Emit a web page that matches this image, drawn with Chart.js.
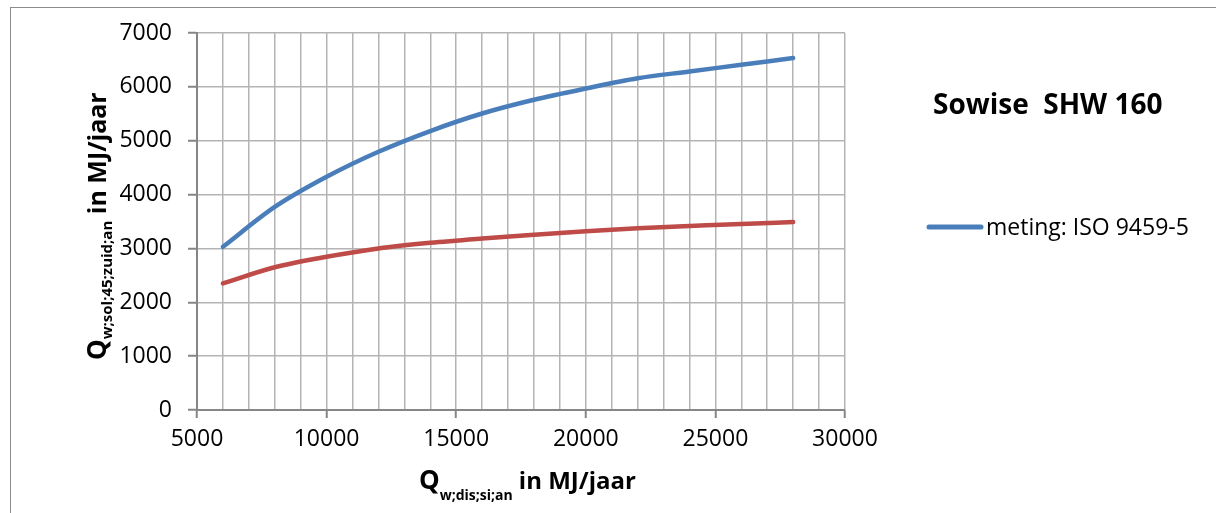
<!DOCTYPE html>
<html>
<head>
<meta charset="utf-8">
<script src="https://cdn.jsdelivr.net/npm/chart.js@4"></script>
<style>
  html, body { margin: 0; padding: 0; background: #fff; }
  #wrap { width: 1216px; height: 513px; }
</style>
</head>
<body>
<div id="wrap"><canvas id="grafiek"></canvas></div>
<script>
// gegevens
const xWaarden = [6000, 8000, 10000, 12000, 14000, 16000, 18000, 20000, 22000, 24000, 26000, 28000];
const meting = [3030, 3770, 4330, 4795, 5180, 5505, 5760, 5970, 6160, 6285, 6410, 6535];
const tweede = [2350, 2650, 2845, 3000, 3105, 3185, 3255, 3320, 3375, 3415, 3455, 3490];
const yTicks = [0, 1000, 2000, 3000, 4000, 5000, 6000, 7000];
const xTickLabels = [5000, 10000, 15000, 20000, 25000, 30000];

const FONT = '"Open Sans", "Liberation Sans", sans-serif';
const BLAUW = '#4A7EBB';
const ROOD = '#BE4B48';

function punten(ys) {
  return xWaarden.map(function (x, i) { return { x: x, y: ys[i] }; });
}

// tekst met subscript tekenen, vanaf x0
function tekenRijk(ctx, delen, x0, y) {
  let x = x0;
  delen.forEach(function (d) {
    ctx.font = d.font;
    ctx.fillText(d.t, x, y + d.dy);
    x += ctx.measureText(d.t).width;
  });
}

const extraTekst = {
  id: 'extraTekst',
  beforeDraw: function (chart) {
    const ctx = chart.ctx;
    ctx.save();
    ctx.fillStyle = '#fff';
    ctx.fillRect(0, 0, chart.width, chart.height);
    ctx.strokeStyle = '#8c8c8c';
    ctx.lineWidth = 1;
    ctx.strokeRect(10.5, 7.5, 1400, 700);
    ctx.restore();
  },
  afterDraw: function (chart) {
    const ctx = chart.ctx;
    ctx.save();
    ctx.fillStyle = '#000';
    ctx.textBaseline = 'alphabetic';
    ctx.textAlign = 'left';

    // x-as titel
    tekenRijk(ctx, [
      { t: 'Q', font: 'bold 26px ' + FONT, dy: 0 },
      { t: 'w;dis;si;an', font: 'bold 14px ' + FONT, dy: 11 },
      { t: ' in MJ/jaar', font: 'bold 24px ' + FONT, dy: 0 }
    ], 419, 489);

    // y-as titel
    ctx.save();
    ctx.translate(106, 360);
    ctx.rotate(-Math.PI / 2);
    tekenRijk(ctx, [
      { t: 'Q', font: 'bold 26px ' + FONT, dy: 0 },
      { t: 'w;sol;45;zuid;an', font: 'bold 15px ' + FONT, dy: 6 },
      { t: ' in MJ/jaar', font: 'bold 25px ' + FONT, dy: 0 }
    ], 0, 0);
    ctx.restore();

    // titel
    ctx.font = 'bold 28px ' + FONT;
    ctx.fillText('Sowise  SHW 160', 933, 114);

    // legenda (alleen eerste reeks)
    const ds = chart.data.datasets[0];
    ctx.strokeStyle = ds.borderColor;
    ctx.lineWidth = 5;
    ctx.lineCap = 'round';
    ctx.beginPath();
    ctx.moveTo(929, 227);
    ctx.lineTo(981, 227);
    ctx.stroke();
    ctx.font = '23px ' + FONT;
    ctx.fillText(ds.label, 986, 235);
    ctx.restore();
  }
};

new Chart(document.getElementById('grafiek'), {
  type: 'line',
  data: {
    datasets: [{
      label: 'meting: ISO 9459-5',
      data: punten(meting),
      borderColor: BLAUW,
      borderWidth: 4.5,
      pointRadius: 0,
      cubicInterpolationMode: 'monotone',
      borderCapStyle: 'round'
    }, {
      label: '',
      data: punten(tweede),
      borderColor: ROOD,
      borderWidth: 4.5,
      pointRadius: 0,
      cubicInterpolationMode: 'monotone',
      borderCapStyle: 'round'
    }]
  },
  options: {
    responsive: true,
    maintainAspectRatio: false,
    animation: false,
    layout: { padding: { top: 33, right: 371, left: 0, bottom: 0 } },
    plugins: {
      legend: { display: false },
      title: { display: false },
      tooltip: { enabled: false }
    },
    scales: {
      x: {
        type: 'linear',
        min: 5000,
        max: 30000,
        afterFit: function (s) { s.height = 103; },
        afterBuildTicks: function (s) {
          const t = [];
          for (let v = 5000; v <= 30000; v += 1000) t.push({ value: v });
          s.ticks = t;
        },
        ticks: {
          autoSkip: false,
          maxRotation: 0,
          color: '#000',
          padding: 8,
          font: { family: FONT, size: 23 },
          callback: function (v) { return xTickLabels.indexOf(v) >= 0 ? String(v) : ''; }
        },
        grid: {
          color: '#b4b4b4',
          lineWidth: 1.5,
          tickLength: 8,
          tickColor: function (c) { return c.tick && xTickLabels.indexOf(c.tick.value) >= 0 ? '#868686' : 'rgba(0,0,0,0)'; },
          tickWidth: 2
        },
        border: { color: '#868686', width: 2 }
      },
      y: {
        min: 0,
        max: 7000,
        afterFit: function (s) { s.width = 197; },
        afterBuildTicks: function (s) { s.ticks = yTicks.map(function (v) { return { value: v }; }); },
        ticks: {
          color: '#000',
          padding: 16,
          font: { family: FONT, size: 23 },
          callback: function (v) { return String(v); }
        },
        grid: {
          color: '#b4b4b4',
          lineWidth: 1.5,
          tickLength: 9,
          tickColor: '#868686',
          tickWidth: 2
        },
        border: { color: '#868686', width: 2 }
      }
    }
  },
  plugins: [extraTekst]
});
</script>
</body>
</html>
